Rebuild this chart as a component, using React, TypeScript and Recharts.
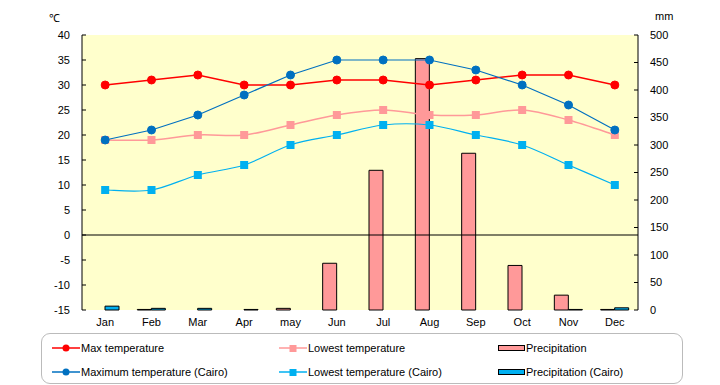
import { ComposedChart, Line, Bar, XAxis, YAxis, CartesianGrid, ReferenceLine } from 'recharts';

const months = ['Jan', 'Feb', 'Mar', 'Apr', 'may', 'Jun', 'Jul', 'Aug', 'Sep', 'Oct', 'Nov', 'Dec'];
const maxTemp = [30, 31, 32, 30, 30, 31, 31, 30, 31, 32, 32, 30];
const lowTemp = [19, 19, 20, 20, 22, 24, 25, 24, 24, 25, 23, 20];
const maxCairo = [19, 21, 24, 28, 32, 35, 35, 35, 33, 30, 26, 21];
const lowCairo = [9, 9, 12, 14, 18, 20, 22, 22, 20, 18, 14, 10];
const precip = [0, 1, 0, 0, 3, 85, 254, 457, 285, 81, 27, 1];
const precipCairo = [7, 3, 3, 1, 0, 0, 0, 0, 0, 0, 1, 4];
const tempTicks = [-15, -10, -5, 0, 5, 10, 15, 20, 25, 30, 35, 40];
const mmTicks = [0, 50, 100, 150, 200, 250, 300, 350, 400, 450, 500];

const data = months.map((m, i) => ({
  month: m,
  maxTemp: maxTemp[i],
  lowTemp: lowTemp[i],
  maxCairo: maxCairo[i],
  lowCairo: lowCairo[i],
  precip: precip[i],
  precipCairo: precipCairo[i],
}));

const RED = '#FF0000';
const PINK = '#FF9999';
const BLUE = '#0070C0';
const LIGHT_BLUE = '#00B0F0';
const FONT = '"Liberation Sans", Arial, sans-serif';

// Excel-like smoothed line (Catmull-Rom through the points)
const smoothCurve: any = (context: any) => {
  let pts: number[][] = [];
  return {
    areaStart() {},
    areaEnd() {},
    lineStart() { pts = []; },
    lineEnd() {
      if (!pts.length) return;
      context.moveTo(pts[0][0], pts[0][1]);
      for (let i = 0; i < pts.length - 1; i++) {
        const p0 = pts[i - 1] || pts[i];
        const p1 = pts[i];
        const p2 = pts[i + 1];
        const p3 = pts[i + 2] || p2;
        const t = 1 / 6;
        context.bezierCurveTo(
          p1[0] + (p2[0] - p0[0]) * t, p1[1] + (p2[1] - p0[1]) * t,
          p2[0] - (p3[0] - p1[0]) * t, p2[1] - (p3[1] - p1[1]) * t,
          p2[0], p2[1]
        );
      }
    },
    point(x: number, y: number) { pts.push([x, y]); },
  };
};

const squareDot = (color: string) => (props: any) => {
  const { cx, cy, index } = props;
  return <rect key={`sq-${color}-${index}`} x={cx - 4} y={cy - 4} width={8} height={8} fill={color} />;
};

const LegendLine = ({ color, square }: { color: string; square?: boolean }) => (
  <svg width={28} height={10} style={{ marginRight: 1 }}>
    <line x1={0} y1={5} x2={28} y2={5} stroke={color} strokeWidth={1.5} />
    {square
      ? <rect x={10.5} y={2} width={7} height={7} fill={color} />
      : <circle cx={14} cy={5} r={3.5} fill={color} />}
  </svg>
);

const LegendBox = ({ color }: { color: string }) => (
  <svg width={27} height={8} style={{ marginRight: 1 }}>
    <rect x={0.5} y={1.5} width={26} height={5} fill={color} stroke="#000" strokeWidth={1} />
  </svg>
);

const legendItems = [
  { x: 52, y: 348, label: 'Max temperature', icon: <LegendLine color={RED} /> },
  { x: 279, y: 348, label: 'Lowest temperature', icon: <LegendLine color={PINK} square /> },
  { x: 498, y: 348, label: 'Precipitation', icon: <LegendBox color={PINK} /> },
  { x: 52, y: 372, label: 'Maximum temperature (Cairo)', icon: <LegendLine color={BLUE} /> },
  { x: 279, y: 372, label: 'Lowest temperature (Cairo)', icon: <LegendLine color={LIGHT_BLUE} square /> },
  { x: 498, y: 372, label: 'Precipitation (Cairo)', icon: <LegendBox color={LIGHT_BLUE} /> },
];

export default function App() {
  const tick = { fill: '#000', fontSize: 11, fontFamily: FONT };
  return (
    <div style={{ position: 'absolute', left: 0, top: 0, width: 720, height: 385, background: '#fff', fontFamily: FONT, fontSize: 11 }}>
      <span style={{ position: 'absolute', left: 49, top: 10, fontSize: 11 }}>℃</span>
      <span style={{ position: 'absolute', left: 655, top: 10, fontSize: 11 }}>mm</span>
      <ComposedChart
        width={720}
        height={340}
        data={data}
        margin={{ top: 35, right: 0, bottom: 0, left: 0 }}
        barGap={0}
      >
        <CartesianGrid horizontal={false} vertical={false} fill="#FFFFCC" fillOpacity={1} />
        <XAxis dataKey="month" interval={0} axisLine={false} tickLine={false} tickSize={0} tickMargin={8} height={30} tick={tick} />
        <YAxis
          yAxisId="left"
          domain={[-15, 40]}
          ticks={tempTicks}
          width={82}
          tick={tick}
          axisLine={{ stroke: '#000' }}
          tickLine={{ stroke: '#000' }}
          tickSize={-4}
          tickMargin={16}
        />
        <YAxis
          yAxisId="right"
          orientation="right"
          domain={[0, 500]}
          ticks={mmTicks}
          width={82}
          tick={{ ...tick, textAnchor: 'start' }}
          axisLine={{ stroke: '#000' }}
          tickLine={{ stroke: '#000' }}
          tickSize={-4}
          tickMargin={16}
        />
        <Bar yAxisId="right" dataKey="precip" fill={PINK} stroke="#000" strokeWidth={1} barSize={14} isAnimationActive={false} />
        <Bar yAxisId="right" dataKey="precipCairo" fill={LIGHT_BLUE} stroke="#000" strokeWidth={1} barSize={14} isAnimationActive={false} />
        <ReferenceLine yAxisId="left" y={0} stroke="#000" strokeWidth={1.2} />
        <Line yAxisId="left" dataKey="maxTemp" type="linear" stroke={RED} strokeWidth={1.5} dot={{ r: 4, fill: RED, stroke: RED, strokeWidth: 1 }} isAnimationActive={false} />
        <Line yAxisId="left" dataKey="lowTemp" type={smoothCurve} stroke={PINK} strokeWidth={1.5} dot={squareDot(PINK)} isAnimationActive={false} />
        <Line yAxisId="left" dataKey="maxCairo" type="linear" stroke={BLUE} strokeWidth={1.2} dot={{ r: 4, fill: BLUE, stroke: BLUE, strokeWidth: 1 }} isAnimationActive={false} />
        <Line yAxisId="left" dataKey="lowCairo" type={smoothCurve} stroke={LIGHT_BLUE} strokeWidth={1.2} dot={squareDot(LIGHT_BLUE)} isAnimationActive={false} />
      </ComposedChart>
      <div style={{ position: 'absolute', left: 41, top: 333, width: 640, height: 49, border: '1px solid #BBBBBB', borderRadius: 9 }} />
      {legendItems.map((it) => (
        <div key={it.label} style={{ position: 'absolute', left: it.x, top: it.y - 7, height: 14, display: 'flex', alignItems: 'center', whiteSpace: 'nowrap', color: '#000' }}>
          {it.icon}
          <span>{it.label}</span>
        </div>
      ))}
    </div>
  );
}
